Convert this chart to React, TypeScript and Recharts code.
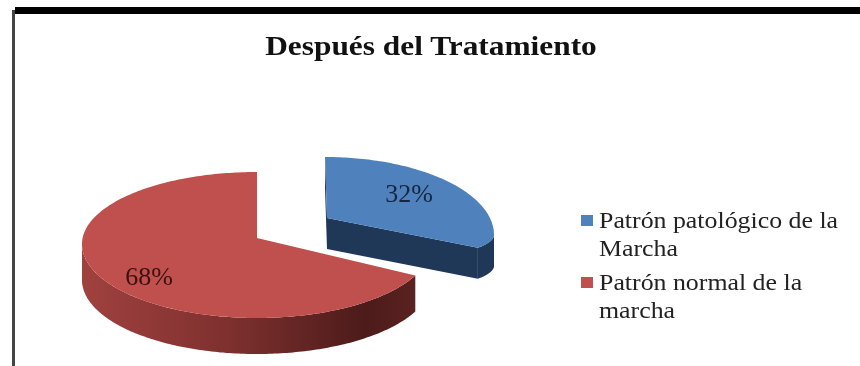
import { Legend, Pie, PieChart } from 'recharts';

const categories = ['Patrón patológico de la Marcha', 'Patrón normal de la marcha'];
const percentages = [32, 68];
const chartTitle = 'Después del Tratamiento';

const topColors = ['#4f81bd', '#c0504d'];
const sideFills = ['#1f3858', 'url(#redSide)'];

// the slices are squashed by hand to fake the 3D look of the original
// apexX/apexY move the tip, rimX/rimY move the centre of the outer edge
const sliceShapes = [
  { apexX: 70, apexY: -20, rimX: 68, rimY: -3, rx: 169, ryUp: 78, ryDown: 30, depth: 31, labelX: 0.59, labelY: 1.0 },
  { apexX: 0, apexY: 0, rimX: 0, rimY: 6, rx: 175, ryUp: 72, ryDown: 74, depth: 36, labelX: 0.73, labelY: 0.81 },
];

const serif = '"Liberation Serif", serif';
const data = categories.map((name, index) => ({ name, value: percentages[index] }));

type Shape = (typeof sliceShapes)[number];

function project(cx: number, cy: number, s: Shape, deg: number, fx = 1, fy = 1) {
  const rad = (deg * Math.PI) / 180;
  const sin = Math.sin(rad);
  return {
    x: cx + s.rimX + s.rx * fx * Math.cos(rad),
    y: cy + s.rimY - (sin > 0 ? s.ryUp : s.ryDown) * fy * sin,
  };
}

function arcPoints(cx: number, cy: number, s: Shape, from: number, to: number) {
  const steps = Math.max(2, Math.ceil(Math.abs(to - from)));
  const points = [];
  for (let i = 0; i <= steps; i++) {
    points.push(project(cx, cy, s, from + ((to - from) * i) / steps));
  }
  return points;
}

function toPath(points: { x: number; y: number }[]) {
  return points.map((p, i) => `${i ? 'L' : 'M'}${p.x.toFixed(1)} ${p.y.toFixed(1)}`).join(' ') + ' Z';
}

function down(p: { x: number; y: number }, depth: number) {
  return { x: p.x, y: p.y + depth };
}

function SliceShape(props: any) {
  const { cx, cy, startAngle, endAngle, index } = props;
  const s = sliceShapes[index];
  const hi = Math.max(startAngle, endAngle);
  const lo = Math.min(startAngle, endAngle);
  const apex = { x: cx + s.apexX, y: cy + s.apexY };
  const rim = arcPoints(cx, cy, s, hi, lo);

  // outer wall: only the part of the rim that faces the viewer
  const wallTop = arcPoints(cx, cy, s, Math.min(hi, 0), Math.max(lo, -180));
  const wallBottom = wallTop.map((p) => down(p, s.depth)).reverse();

  // cut walls, visible only on the pulled out slice
  const cutEnd = project(cx, cy, s, lo);
  const cutStart = project(cx, cy, s, hi);
  const cut = [apex, cutEnd, down(cutEnd, s.depth), down(apex, s.depth)];
  const cutLeft = [cutStart, apex, down(apex, s.depth), down(cutStart, s.depth)];

  return (
    <g>
      {s.apexX > 0 && <path d={toPath(cutLeft)} fill="#1f3858" />}
      {s.apexX > 0 && <path d={toPath(cut)} fill="#1f3858" />}
      <path d={toPath([...wallTop, ...wallBottom])} fill={sideFills[index]} />
      <path d={toPath([apex, ...rim])} fill={topColors[index]} />
    </g>
  );
}

function renderPercent(props: any) {
  const { cx, cy, midAngle, index } = props;
  const s = sliceShapes[index];
  const p = project(cx, cy, s, midAngle, s.labelX, s.labelY);
  return (
    <text x={p.x} y={p.y} textAnchor="middle" dominantBaseline="central" fontFamily={serif} fontSize={26} fill={index ? '#3a1110' : '#16263f'}>
      {percentages[index]}%
    </text>
  );
}

// the original text is a bit stretched sideways, hence the scaleX
function LegendList() {
  return (
    <div style={{ fontFamily: serif, fontSize: 24, lineHeight: '27.5px', color: '#222' }}>
      {data.map((entry, index) => (
        <div key={entry.name} style={{ position: 'relative', paddingLeft: 18, marginBottom: 7 }}>
          <span style={{ position: 'absolute', left: 0, top: 8, width: 12, height: 11, background: topColors[index] }} />
          <div style={{ width: 235, transform: 'scaleX(1.077)', transformOrigin: 'left center' }}>{entry.name}</div>
        </div>
      ))}
    </div>
  );
}

export default function App() {
  return (
    <div style={{ position: 'absolute', left: 0, top: 0, width: 860, height: 366, overflow: 'hidden', background: '#fff', filter: 'blur(0.4px)' }}>
      <div style={{ position: 'absolute', left: 15, top: 7, width: 845, height: 7, background: '#000' }} />
      <div style={{ position: 'absolute', left: 12, top: 10, width: 3, height: 356, background: '#444' }} />
      <div style={{ position: 'absolute', left: 1, width: 860, top: 29, textAlign: 'center', fontFamily: serif, fontWeight: 'bold', fontSize: 28, lineHeight: '34px', transform: 'scaleX(1.12)', color: '#111', whiteSpace: 'nowrap' }}>
        {chartTitle}
      </div>
      <PieChart width={860} height={366} margin={{ top: 0, right: 0, bottom: 0, left: 0 }} style={{ position: 'absolute', left: 0, top: 0 }}>
        <defs>
          <linearGradient id="redSide" x1="0" y1="0" x2="1" y2="0">
            <stop offset="0%" stopColor="#a0413f" />
            <stop offset="45%" stopColor="#7d302e" />
            <stop offset="85%" stopColor="#4c1b1a" />
            <stop offset="100%" stopColor="#5a2220" />
          </linearGradient>
        </defs>
        <Pie
          data={data}
          dataKey="value"
          nameKey="name"
          cx={257}
          cy={238}
          outerRadius={175}
          startAngle={90}
          endAngle={-270}
          stroke="none"
          shape={SliceShape}
          label={renderPercent}
          labelLine={false}
          isAnimationActive={false}
        />
        <Legend
          layout="vertical"
          align="right"
          verticalAlign="middle"
          content={LegendList}
          wrapperStyle={{ left: 581, top: 207, width: 270 }}
        />
      </PieChart>
    </div>
  );
}
